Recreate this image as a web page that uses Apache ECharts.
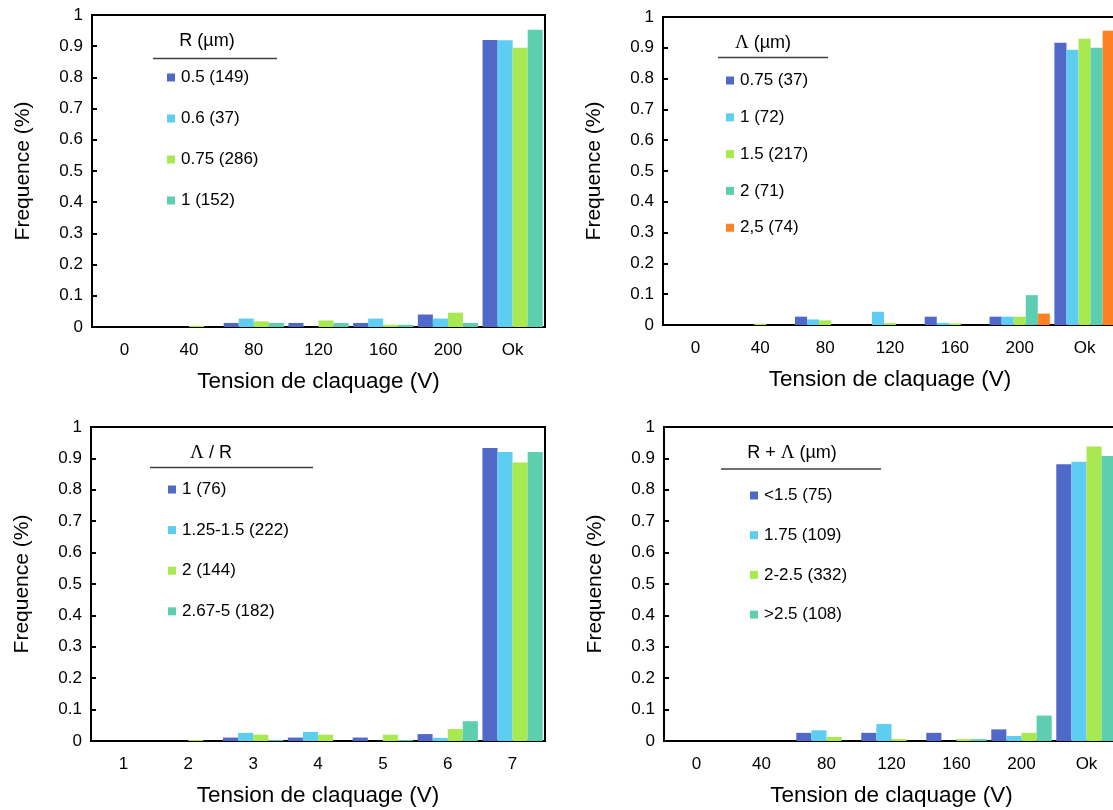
<!DOCTYPE html>
<html>
<head>
<meta charset="utf-8">
<script src="https://cdn.jsdelivr.net/npm/echarts@6/dist/echarts.min.js"></script>
<style>
html,body{margin:0;padding:0;background:#fff;overflow:hidden;width:1113px;height:810px;}
#c{width:1124px;height:810px;}
</style>
</head>
<body>
<div id="c"></div>
<script>
// ---- data ----
const catsV = ['0', '40', '80', '120', '160', '200', 'Ok'];
const cats7 = ['1', '2', '3', '4', '5', '6', '7'];

// Panel 1: R (µm)
const names1 = ['0.5 (149)', '0.6 (37)', '0.75 (286)', '1 (152)'];
const p1_r05  = [0, 0,     0.013, 0.013, 0.013, 0.040, 0.920];
const p1_r06  = [0, 0,     0.027, 0,     0.027, 0.027, 0.919];
const p1_r075 = [0, 0.004, 0.018, 0.021, 0.007, 0.046, 0.895];
const p1_r1   = [0, 0,     0.013, 0.013, 0.007, 0.013, 0.953];

// Panel 2: Λ (µm)
const names2 = ['0.75 (37)', '1 (72)', '1.5 (217)', '2 (71)', '2,5 (74)'];
const p2_l075 = [0, 0,     0.027, 0,     0.027, 0.027, 0.916];
const p2_l1   = [0, 0,     0.018, 0.043, 0.007, 0.027, 0.894];
const p2_l15  = [0, 0.004, 0.015, 0.006, 0.005, 0.027, 0.929];
const p2_l2   = [0, 0,     0,     0,     0,     0.097, 0.900];
const p2_l25  = [0, 0,     0,     0,     0,     0.037, 0.955];

// Panel 3: Λ / R
const names3 = ['1 (76)', '1.25-1.5 (222)', '2 (144)', '2.67-5 (182)'];
const p3_a1   = [0, 0,     0.011, 0.011, 0.011, 0.022, 0.933];
const p3_a125 = [0, 0,     0.026, 0.029, 0,     0.010, 0.920];
const p3_a2   = [0, 0.003, 0.020, 0.020, 0.020, 0.038, 0.887];
const p3_a267 = [0, 0,     0.003, 0,     0.003, 0.063, 0.920];

// Panel 4: R + Λ (µm)
const names4 = ['<1.5 (75)', '1.75 (109)', '2-2.5 (332)', '>2.5 (108)'];
const p4_s15  = [0, 0, 0.026, 0.026, 0.026, 0.037, 0.881];
const p4_s175 = [0, 0, 0.034, 0.054, 0,     0.016, 0.889];
const p4_s2   = [0, 0, 0.013, 0.006, 0.006, 0.026, 0.938];
const p4_s25  = [0, 0, 0,     0,     0.006, 0.081, 0.908];

const colors = ['#5068C8', '#5DCDF2', '#A8E850', '#5DCFB0', '#FF8020'];

// ---- layout (canvas is 1124 wide; page shows the left 1113 px) ----
const FONT = 'Liberation Sans, Arial, sans-serif';
const grids = [
  {left: 92,  top: 15,  width: 453, height: 312},
  {left: 663, top: 17,  width: 454, height: 308},
  {left: 91,  top: 427, width: 454, height: 314},
  {left: 664, top: 427, width: 455, height: 314}
];
const panelData = [
  {cats: catsV, names: names1, vals: [p1_r05, p1_r06, p1_r075, p1_r1]},
  {cats: catsV, names: names2, vals: [p2_l075, p2_l1, p2_l15, p2_l2, p2_l25]},
  {cats: cats7, names: names3, vals: [p3_a1, p3_a125, p3_a2, p3_a267]},
  {cats: catsV, names: names4, vals: [p4_s15, p4_s175, p4_s2, p4_s25]}
];
const legendPos = [
  {left: 167, top: 69,  gap: 24},
  {left: 726, top: 72,  gap: 19.8},
  {left: 168, top: 481, gap: 23.6},
  {left: 750, top: 487, gap: 22.7}
];
const legendTitles = [
  {text: 'R (µm)', x: 207, y: 41, lx1: 153, lx2: 277, ly: 58.5},
  {text: '{g|Λ} (µm)', x: 763, y: 43, lx1: 718, lx2: 828, ly: 57.5},
  {text: '{g|Λ} / R', x: 211, y: 453, lx1: 150, lx2: 313, ly: 467.5},
  {text: 'R + {g|Λ} (µm)', x: 792, y: 453, lx1: 721, lx2: 881, ly: 469}
];

const xAxes = [], yAxes = [], series = [], legends = [], graphics = [];
grids.forEach((g, i) => {
  g.show = true; g.borderColor = '#000'; g.borderWidth = 2; g.backgroundColor = 'transparent';
  const pd = panelData[i];
  xAxes.push({
    type: 'category', gridIndex: i, data: pd.cats,
    axisLine: {lineStyle: {color: '#000', width: 2}},
    axisTick: {inside: true, length: 5, lineStyle: {color: '#000', width: 2}},
    axisLabel: {color: '#000', fontSize: 17, fontFamily: FONT, margin: 15},
    name: 'Tension de claquage (V)', nameLocation: 'middle', nameGap: 43,
    nameTextStyle: {color: '#000', fontSize: 22.5, fontFamily: FONT}
  });
  yAxes.push({
    type: 'value', gridIndex: i, min: 0, max: 1, interval: 0.1,
    splitLine: {show: false},
    axisLine: {show: true, lineStyle: {color: '#000', width: 2}},
    axisTick: {show: true, inside: true, length: 5, lineStyle: {color: '#000', width: 2}},
    axisLabel: {color: '#000', fontSize: 17, fontFamily: FONT, margin: 9,
      formatter: v => String(+v.toFixed(1))},
    name: 'Frequence (%)', nameLocation: 'middle', nameGap: 58,
    nameTextStyle: {color: '#000', fontSize: 21, fontFamily: FONT}
  });
  pd.names.forEach((n, k) => {
    series.push({
      type: 'bar', name: n, xAxisIndex: i, yAxisIndex: i, data: pd.vals[k],
      barGap: '0%', barCategoryGap: '7%',
      itemStyle: {color: colors[k], borderWidth: 0},
      emphasis: {disabled: true}, animation: false
    });
  });
  legends.push({
    orient: 'vertical', left: legendPos[i].left, top: legendPos[i].top,
    itemGap: legendPos[i].gap, itemWidth: 8, itemHeight: 8, icon: 'rect',
    data: pd.names, selectedMode: false,
    textStyle: {color: '#000', fontSize: 17, fontFamily: FONT, padding: [0, 0, 0, 1]},
    padding: 0
  });
  const lt = legendTitles[i];
  graphics.push({
    type: 'text', x: lt.x, y: lt.y,
    style: {
      text: lt.text, fill: '#000', font: '18px ' + FONT,
      align: 'center', verticalAlign: 'middle',
      rich: {g: {fontFamily: 'Liberation Serif, DejaVu Serif, serif', fontSize: 19, fill: '#000'}}
    }
  });
  graphics.push({
    type: 'line', shape: {x1: lt.lx1, y1: lt.ly, x2: lt.lx2, y2: lt.ly},
    style: {stroke: '#404040', lineWidth: 1.5}
  });
});

const chart = echarts.init(document.getElementById('c'), null, {renderer: 'canvas'});
chart.setOption({
  animation: false,
  backgroundColor: '#fff',
  grid: grids, xAxis: xAxes, yAxis: yAxes, series: series,
  legend: legends, graphic: graphics
});
</script>
</body>
</html>
